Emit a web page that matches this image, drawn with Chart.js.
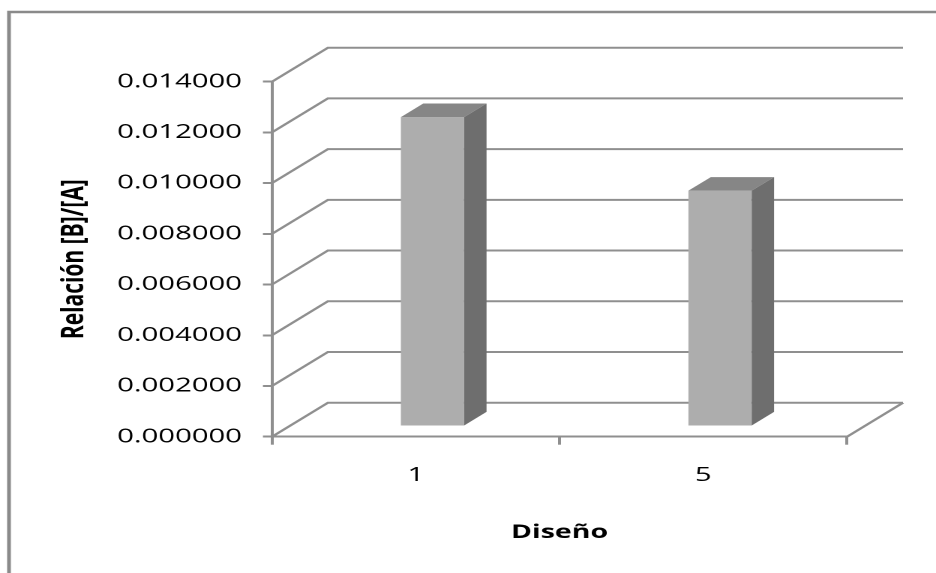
<!DOCTYPE html>
<html lang="es">
<head>
  <meta charset="UTF-8" />
  <title>Relación [B]/[A] por diseño</title>
  <script src="https://cdn.jsdelivr.net/npm/chart.js"></script>
  <style>
    * { margin: 0; padding: 0; box-sizing: border-box; }
    html, body { width: 936px; height: 573px; overflow: hidden; background: #fff; }
    /* the chart is laid out narrow and stretched sideways, like the original sheet graphic */
    #chart { display: block; transform: scaleX(1.5); transform-origin: 0 0; }
  </style>
</head>
<body>
  <canvas id="chart" width="624" height="573"></canvas>

  <script>
    const categories = ['1', '5'];
    const ratios = [0.0122, 0.0093];
    const yMin = 0;
    const yMax = 0.014;
    const yStep = 0.002;

    const GRID = '#8f8f8f';
    const DX = 37.3;   // depth offset of the back wall
    const DY = -34;
    const BAR_FRONT = 0.3;  // bars sit between 30% and 70% of the depth
    const BAR_DEPTH = 0.4;

    const wall3d = {
      id: 'wall3d',
      beforeDraw(chart) {
        const ctx = chart.ctx;
        ctx.save();
        ctx.strokeStyle = '#8a8a8a';
        ctx.lineWidth = 2.5;
        ctx.strokeRect(6, 12, 700, 700);
        ctx.restore();
      },
      beforeDatasetsDraw(chart) {
        const { ctx, chartArea: a, scales: { y } } = chart;
        ctx.save();
        ctx.strokeStyle = GRID;
        ctx.lineWidth = 2;
        y.ticks.forEach(t => {
          const py = y.getPixelForValue(t.value);
          ctx.beginPath();
          ctx.moveTo(a.left, py);
          ctx.lineTo(a.left + DX, py + DY);
          ctx.lineTo(a.right + DX, py + DY);
          ctx.stroke();
        });
        // right edge of the floor
        ctx.beginPath();
        ctx.moveTo(a.right, a.bottom);
        ctx.lineTo(a.right + DX, a.bottom + DY);
        ctx.stroke();
        ctx.restore();

        ctx.save();
        ctx.translate(BAR_FRONT * DX, BAR_FRONT * DY);
      },
      afterDatasetsDraw(chart) {
        const ctx = chart.ctx;
        const bx = BAR_DEPTH * DX, by = BAR_DEPTH * DY;
        chart.getDatasetMeta(0).data.forEach(bar => {
          const x1 = bar.x - bar.width / 2, x2 = bar.x + bar.width / 2;
          const top = bar.y, base = bar.base;
          ctx.fillStyle = '#868686';
          ctx.beginPath();
          ctx.moveTo(x1, top);
          ctx.lineTo(x2, top);
          ctx.lineTo(x2 + bx, top + by);
          ctx.lineTo(x1 + bx, top + by);
          ctx.closePath();
          ctx.fill();
          ctx.fillStyle = '#6e6e6e';
          ctx.beginPath();
          ctx.moveTo(x2, top);
          ctx.lineTo(x2 + bx, top + by);
          ctx.lineTo(x2 + bx, base + by);
          ctx.lineTo(x2, base);
          ctx.closePath();
          ctx.fill();
        });
        ctx.restore();
      }
    };

    new Chart(document.getElementById('chart'), {
      type: 'bar',
      data: {
        labels: categories,
        datasets: [{
          data: ratios,
          backgroundColor: '#adadad',
          borderWidth: 0,
          barPercentage: 0.22,
          categoryPercentage: 1
        }]
      },
      options: {
        responsive: false,
        animation: false,
        devicePixelRatio: 2,
        layout: { padding: { top: 81.7, right: 59.3, left: 0, bottom: 0 } },
        plugins: { legend: { display: false }, tooltip: { enabled: false } },
        scales: {
          x: {
            offset: true,
            grid: { offset: true, drawOnChartArea: false, color: GRID, lineWidth: 2, tickLength: 8 },
            border: { color: GRID, width: 2 },
            ticks: { color: '#000', padding: 19, font: { family: 'Open Sans', size: 19.5 } },
            title: {
              display: true, text: 'Diseño', color: '#000',
              font: { family: 'Open Sans', size: 19, weight: 'bold' },
              padding: { top: 0, bottom: 29 }
            },
            afterFit(scale) { scale.height = 573 - 436.7; }
          },
          y: {
            min: yMin,
            max: yMax,
            grid: { drawOnChartArea: false, color: GRID, lineWidth: 2, tickLength: 6 },
            border: { color: GRID, width: 2 },
            ticks: {
              stepSize: yStep,
              color: '#000',
              padding: 14,
              font: { family: 'Open Sans', size: 19.5 },
              callback: v => Number(v).toFixed(6)
            },
            title: {
              display: true, text: 'Relación [B]/[A]', color: '#000',
              font: { family: 'Open Sans', size: 21, weight: 'bold' },
              padding: { top: 37, bottom: 0 }
            },
            afterFit(scale) { scale.width = 181.3; }
          }
        }
      },
      plugins: [wall3d]
    });
  </script>
</body>
</html>
